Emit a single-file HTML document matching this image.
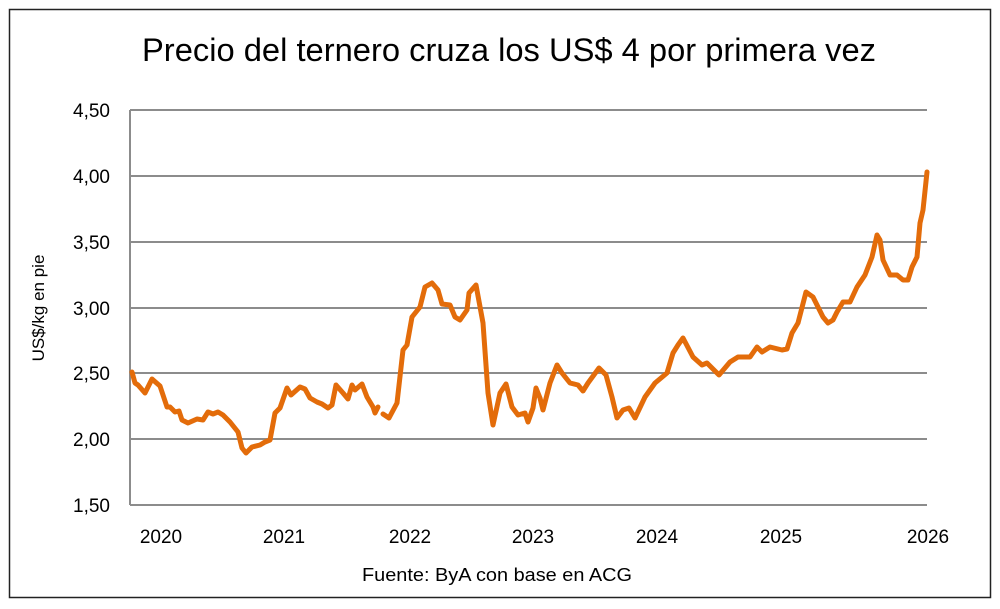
<!DOCTYPE html>
<html><head><meta charset="utf-8"><style>
body{margin:0;background:#fff;}
svg{display:block;font-family:"Liberation Sans",sans-serif;}
</style></head><body>
<svg width="1000" height="609" viewBox="0 0 1000 609">
<rect x="0" y="0" width="1000" height="609" fill="#fff"/>
<rect x="9.5" y="9.5" width="981" height="588" fill="none" stroke="#222" stroke-width="1.5"/>
<text x="509" y="61" text-anchor="middle" font-size="32" fill="#000" textLength="734" lengthAdjust="spacingAndGlyphs">Precio del ternero cruza los US$ 4 por primera vez</text>
<g stroke="#8c8c8c" stroke-width="2">
<line x1="130" y1="110" x2="927" y2="110"/>
<line x1="130" y1="176" x2="927" y2="176"/>
<line x1="130" y1="242" x2="927" y2="242"/>
<line x1="130" y1="308" x2="927" y2="308"/>
<line x1="130" y1="373" x2="927" y2="373"/>
<line x1="130" y1="439" x2="927" y2="439"/>
<line x1="130" y1="505" x2="927" y2="505"/>
<line x1="130" y1="110" x2="130" y2="505"/>
</g>
<g font-size="19" fill="#000" text-anchor="end">
<text x="110" y="117">4,50</text>
<text x="110" y="183">4,00</text>
<text x="110" y="249">3,50</text>
<text x="110" y="315">3,00</text>
<text x="110" y="380">2,50</text>
<text x="110" y="446">2,00</text>
<text x="110" y="512">1,50</text>
</g>
<g font-size="19" fill="#000" text-anchor="middle">
<text x="161" y="543">2020</text>
<text x="284" y="543">2021</text>
<text x="410" y="543">2022</text>
<text x="533" y="543">2023</text>
<text x="657" y="543">2024</text>
<text x="781" y="543">2025</text>
<text x="928" y="543">2026</text>
</g>
<text transform="translate(44,308) rotate(-90)" text-anchor="middle" font-size="17" fill="#000">US$/kg en pie</text>
<text x="497" y="581" text-anchor="middle" font-size="18" fill="#000" textLength="270" lengthAdjust="spacingAndGlyphs">Fuente: ByA con base en ACG</text>
<g fill="none" stroke="#e36c0a" stroke-width="5" stroke-linejoin="round" stroke-linecap="round">
<polyline points="132,372 135,383 138,385 145,393 152,379 160,386 167,407 170,407 175,412 179,411 182,420 188,423 197,419 203,420 208,412 213,414 218,412 223,415 230,422 238,432 242,448 246,453 252,447 260,445 265,442 270,440 275,413 280,408 287,388 291,395 300,387 305,389 310,398 317,402 322,404 328,408 332,405 336,385 343,393 348,399 352,385 355,390 362,384 367,397 373,407 375,413 378,407"/>
<polyline points="383,414 389,418 397,403 403,350 407,345 412,317 420,307 425,287 432,283 438,290 442,304 450,305 455,317 460,320 467,310 469,293 476,285 483,323 488,393 493,425 500,393 506,384 512,407 518,415 525,413 528,422 533,408 536,388 540,398 543,410 550,383 557,365 562,373 570,383 578,385 583,391 588,383 599,368 606,375 612,397 617,418 623,410 629,408 635,418 645,397 655,383 667,373 673,353 678,345 683,338 693,357 702,365 707,363 719,375 730,362 738,357 750,357 757,347 762,352 770,347 782,350 787,349 792,333 798,323 806,292 813,297 823,317 828,323 833,320 837,312 843,302 850,302 857,287 865,275 872,257 877,235 880,240 883,260 890,275 897,275 903,280 908,280 912,267 917,257 920,223 923,210 927,172"/>
</g>
</svg>
</body></html>
